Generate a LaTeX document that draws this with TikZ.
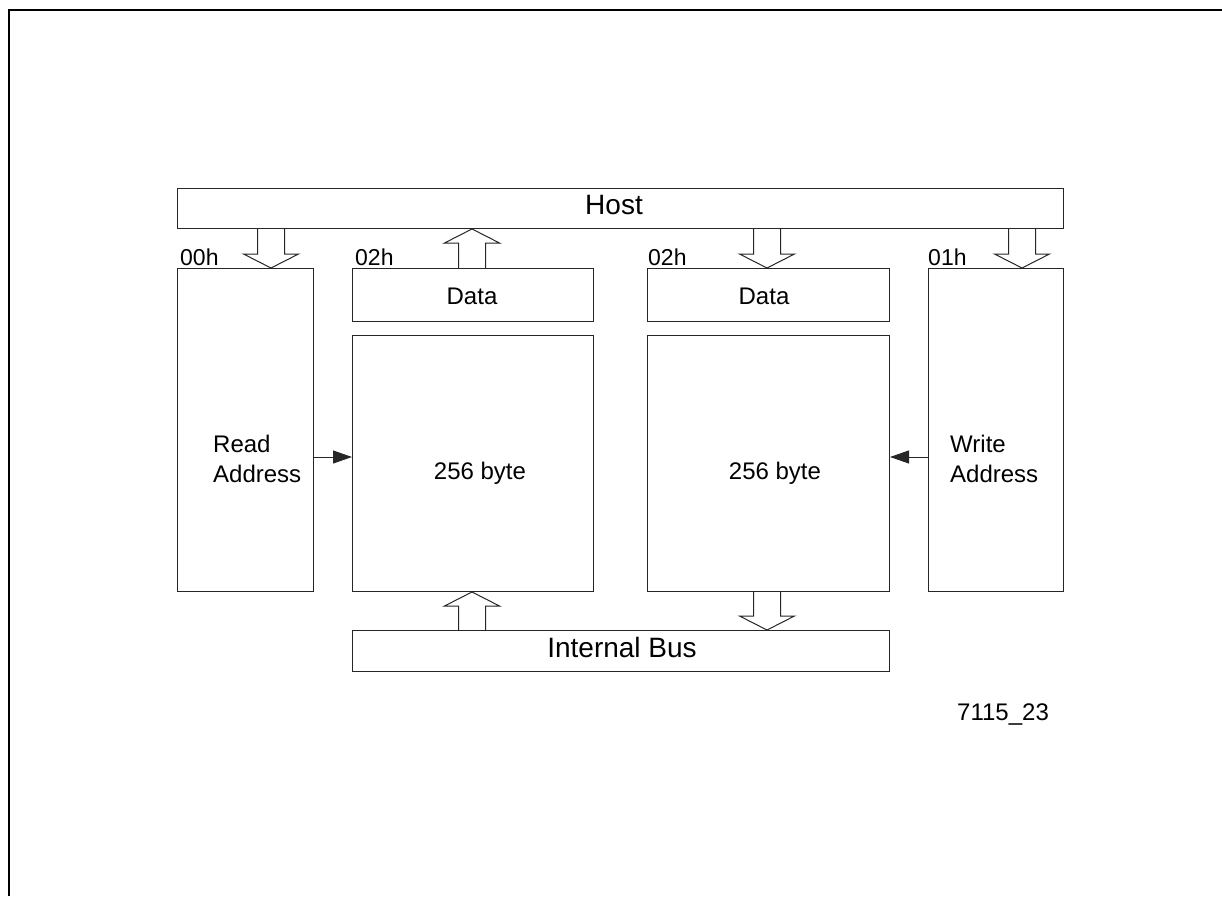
\documentclass[tikz,border=0pt]{standalone}
\usepackage{fontspec}
\setmainfont{Liberation Sans}
\usetikzlibrary{arrows.meta,calc}

% hollow bus arrow from coordinate #1 (tail) to coordinate #2 (tip)
\newcommand\busarrow[2]{%
  \draw[busline] let \p1=(#1), \p2=(#2), \n1={sign(\y2-\y1)} in
    (\x1-13.5pt,\y1) -- (\x1-13.5pt,\y2-\n1*14pt) -- (\x1-27.5pt,\y2-\n1*14pt)
    -- (\x1,\y2) -- (\x1+27.5pt,\y2-\n1*14pt) -- (\x1+13.5pt,\y2-\n1*14pt)
    -- (\x1+13.5pt,\y1);}

\tikzset{
  box/.style={draw=black!85, line width=1pt, rectangle, inner sep=0pt, anchor=north west},
  busline/.style={draw=black!85, line width=1pt, line join=miter},
  ptr/.style={draw=black!85, line width=1pt, -{Triangle[length=19pt,width=13pt]}},
  txt/.style={font=\fontsize{24}{29}\selectfont, inner sep=0pt},
  big/.style={font=\fontsize{28}{34}\selectfont, inner sep=0pt},
  tag/.style={font=\fontsize{23}{28}\selectfont, inner sep=0pt, anchor=base west},
  fig/.style={font=\fontsize{24}{28}\selectfont, inner sep=0pt, anchor=base west},
}

\begin{document}
\begin{tikzpicture}[x=1pt,y=-1pt]
  \useasboundingbox (0,0) rectangle (1222,896);

  % page frame (top and left edges)
  \draw[line width=2.5pt] (9,896) -- (9,10) -- (1222,10);

  % blocks
  \node[box, minimum width=886pt, minimum height=40pt] (host) at (177,188) {};
  \node[box, minimum width=136pt, minimum height=323pt] (rd) at (177,268) {};
  \node[box, minimum width=241pt, minimum height=53pt] (dl) at (352,268) {};
  \node[box, minimum width=241pt, minimum height=256pt] (ml) at (352,335) {};
  \node[box, minimum width=242pt, minimum height=53pt] (dr) at (647,268) {};
  \node[box, minimum width=242pt, minimum height=256pt] (mr) at (647,335) {};
  \node[box, minimum width=135pt, minimum height=323pt] (wr) at (928,268) {};
  \node[box, minimum width=537pt, minimum height=41pt] (bus) at (352,630) {};

  % texts
  \node[big, anchor=base] (thost) at (614,214) {Host};
  \node[big, anchor=base] (tbus) at (622,657) {Internal Bus};
  \node[txt, anchor=base] (tdl) at (472,304) {Data};
  \node[txt, anchor=base] (tdr) at (764,304) {Data};
  \node[txt, anchor=base] (tml) at (480,479) {256 byte};
  \node[txt, anchor=base] (tmr) at (775,479) {256 byte};
  \node[txt, anchor=base west] (trd1) at (213,452) {Read};
  \node[txt, anchor=base west] (trd2) at (213,482) {Address};
  \node[txt, anchor=base west] (twr1) at (950,452) {Write};
  \node[txt, anchor=base west] (twr2) at (950,482) {Address};

  % register addresses
  \node[tag] (a00) at (180,265) {00h};
  \node[tag] (a02l) at (355,265) {02h};
  \node[tag] (a02r) at (648,265) {02h};
  \node[tag] (a01) at (928,265) {01h};

  % figure number
  \node[fig] (fnum) at (957,720) {7115\_23};

  % bus arrow columns
  \coordinate (c1) at (271,0);
  \coordinate (c2) at (472,0);
  \coordinate (c3) at (767,0);
  \coordinate (c4) at (1022,0);

  \busarrow{c1 |- host.south}{c1 |- rd.north}
  \busarrow{c2 |- dl.north}{c2 |- host.south}
  \busarrow{c3 |- host.south}{c3 |- dr.north}
  \busarrow{c4 |- host.south}{c4 |- wr.north}
  \busarrow{c2 |- bus.north}{c2 |- ml.south}
  \busarrow{c3 |- mr.south}{c3 |- bus.north}

  % address pointers
  \coordinate (py) at (0,457);
  \draw[ptr] (rd.east |- py) -- (ml.west |- py);
  \draw[ptr] (wr.west |- py) -- (mr.east |- py);
\end{tikzpicture}
\end{document}
